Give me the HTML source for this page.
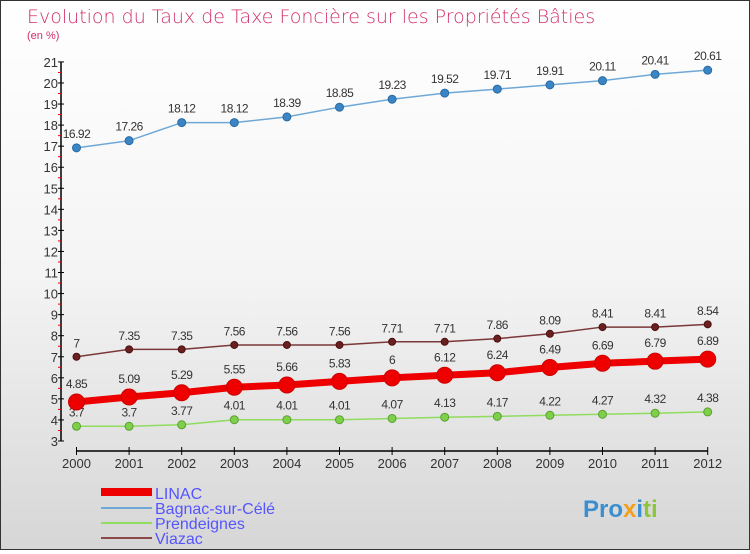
<!DOCTYPE html>
<html><head><meta charset="utf-8"><style>
body{margin:0}
#c{width:748px;height:548px;border:1px solid #333;background:linear-gradient(#fff 0%,#f4f4f4 50%,#d6d6d6 100%);position:relative;font-family:"Liberation Sans","DejaVu Sans",sans-serif}
</style></head><body>
<div id="c">
<svg id="s" width="748" height="548" xmlns="http://www.w3.org/2000/svg" font-family="Liberation Sans, DejaVu Sans, sans-serif">
<text x="26" y="22" font-size="19" fill="#d0306b" font-family="DejaVu Sans" font-weight="200">Evolution du Taux de Taxe Foncière sur les Propriétés Bâties</text>
<text x="26" y="38" font-size="11" fill="#d0306b">(en %)</text>
<g id="axes"></g><g id="series"></g>
<g>
<rect x="100" y="487" width="51" height="8" fill="#e00"/>
<text x="154" y="498" font-size="16" fill="#5555ff">LINAC</text>
<line x1="100" y1="507" x2="151" y2="507" stroke="#6fa8d6" stroke-width="2"/>
<text x="154" y="513" font-size="16" fill="#5555ff">Bagnac-sur-Célé</text>
<line x1="100" y1="522" x2="151" y2="522" stroke="#8fdc5f" stroke-width="2"/>
<text x="154" y="528" font-size="16" fill="#5555ff">Prendeignes</text>
<line x1="100" y1="537" x2="151" y2="537" stroke="#8b4a4a" stroke-width="2"/>
<text x="154" y="543" font-size="16" fill="#5555ff">Viazac</text>
</g>
<text x="582" y="516" font-size="24" font-weight="bold" fill="#3a8fd0">Pro<tspan fill="#f0a020">x</tspan><tspan fill="#3a8fd0">i</tspan><tspan fill="#8cc63f">ti</tspan></text>
</svg></div>
<script>
const years=[2000,2001,2002,2003,2004,2005,2006,2007,2008,2009,2010,2011,2012];
const linac=[4.85,5.09,5.29,5.55,5.66,5.83,6,6.12,6.24,6.49,6.69,6.79,6.89];
const bagnac=[16.92,17.26,18.12,18.12,18.39,18.85,19.23,19.52,19.71,19.91,20.11,20.41,20.61];
const prend=[3.7,3.7,3.77,4.01,4.01,4.01,4.07,4.13,4.17,4.22,4.27,4.32,4.38];
const viazac=[7,7.35,7.35,7.56,7.56,7.56,7.71,7.71,7.86,8.09,8.41,8.41,8.54];
const yTicks=[3,4,5,6,7,8,9,10,11,12,13,14,15,16,17,18,19,20,21];
const NS="http://www.w3.org/2000/svg";
const X=i=>75.5+i*52.6;
const Y=v=>440-(v-3)*21.06;
function mk(t,a,p){const e=document.createElementNS(NS,t);for(const k in a)e.setAttribute(k,a[k]);p.appendChild(e);return e;}
const ax=document.getElementById('axes');
let e=mk('line',{x1:60,y1:Y(21),x2:60,y2:Y(3),stroke:'#000','stroke-width':1.5},ax);


yTicks.forEach(v=>{
 let t=mk('line',{x1:57,x2:63,y1:Y(v),y2:Y(v),stroke:'#000'},ax);
 
 
 if(v<21){let m=mk('line',{x1:57,x2:60,y1:Y(v+0.5),y2:Y(v+0.5),stroke:'#e00'},ax);
 
 }
 let l=mk('text',{x:57,y:Y(v)+5,'font-size':13,'text-anchor':'end',fill:'#333'},ax);l.textContent=v;
 
 
});
e=mk('line',{x1:X(0),y1:450,x2:X(12),y2:450,stroke:'#000','stroke-width':1.5},ax);


years.forEach((y,i)=>{
 let t=mk('line',{x1:X(i),x2:X(i),y1:446,y2:454,stroke:'#000'},ax);
 
 
 let l=mk('text',{x:X(i),y:467,'font-size':13,'text-anchor':'middle',fill:'#333'},ax);l.textContent=y;
 
 
});
const sg=document.getElementById('series');
function series(name,d,col,w,r,dot,stroke){
 const g=mk('g',{},sg);
 
 
 const p=mk('polyline',{points:d.map((v,i)=>X(i)+','+Y(v)).join(' '),fill:'none',stroke:col,'stroke-width':w},g);
 
 
 d.forEach((v,i)=>{
  const c=mk('circle',{cx:X(i),cy:Y(v),r:r,fill:dot,stroke:stroke,'stroke-width':1},g);
  
  
  const t=mk('text',{x:X(i),y:Y(v)-r-6,'font-size':12,'text-anchor':'middle',fill:'#333','letter-spacing':'-0.5'},g);
  t.textContent=v;
  
  
 });
}
series('bagnac',bagnac,'#6fa8d6',1.5,4,'#3a85c6','#2a6aa0');
series('viazac',viazac,'#7a3838',1.5,3.5,'#6a2020','#4a1010');
series('prendeignes',prend,'#8fdc5f',1.5,4,'#7ed04a','#5aa030');
series('linac',linac,'#e00',7,8,'#e00','#c00');
</script>
</body></html>
